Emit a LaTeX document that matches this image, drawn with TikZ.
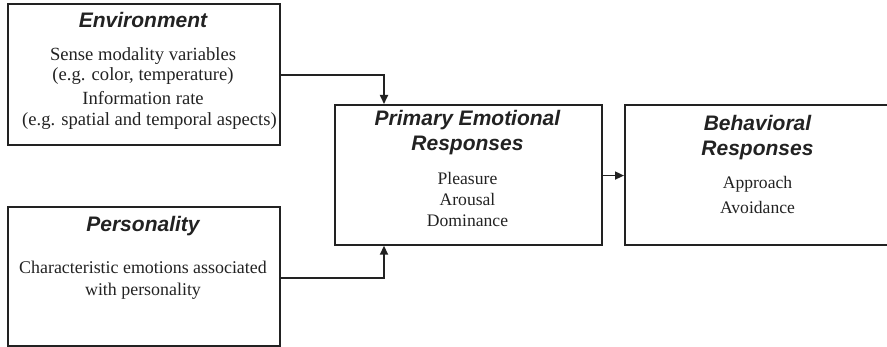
\documentclass[tikz,border=0pt]{standalone}
\usepackage{fontspec}
\setmainfont{Liberation Serif}
\newfontfamily\titlefont{Liberation Sans}
\usetikzlibrary{arrows.meta}
\definecolor{ink}{HTML}{222222}
\tikzset{
  boxnode/.style={draw=ink, line width=1.7pt, inner sep=0pt, anchor=north west},
  ttl/.style={anchor=base, inner sep=0pt, font=\titlefont\bfseries\itshape\fontsize{21}{24}\selectfont, text=ink},
  bod/.style={anchor=base, inner sep=0pt, font=\fontsize{17.6}{20}\selectfont, text=ink},
  bodbig/.style={bod, font=\fontsize{18.6}{21}\selectfont},
  conn/.style={draw=ink, line width=1.7pt, -{Triangle[length=9pt,width=8pt]}}
}
\begin{document}
\begin{tikzpicture}[x=1pt,y=-1pt]
\clip (0,0) rectangle (887,347);
\useasboundingbox (0,0) rectangle (887,347);
% boxes
\node[boxnode, minimum width=272pt, minimum height=141pt] (env) at (7,3) {};
\node[boxnode, minimum width=272pt, minimum height=139.5pt] (pers) at (7,206) {};
\node[boxnode, minimum width=267pt, minimum height=140pt] (prim) at (334,104) {};
\node[boxnode, minimum width=267pt, minimum height=140pt] (beh) at (624,104) {};
% environment
\node[ttl] (envt) at (143,28) {Environment};
\node[bodbig] (env1) at (143,60.7) {Sense modality variables};
\node[bodbig] (env2) at (143,80.7) {(e.g. color, temperature)};
\node[bodbig] (env3) at (143,105) {Information rate};
\node[bodbig] (env4) at (149.5,126) {(e.g. spatial and temporal aspects)};
% personality
\node[ttl] (perst) at (143,232) {Personality};
\node[bod, font=\fontsize{17.9}{20}\selectfont] (pers1) at (143,274) {Characteristic emotions associated};
\node[bod, font=\fontsize{17.9}{20}\selectfont] (pers2) at (143,296) {with personality};
% primary
\node[ttl] (primt1) at (467.5,125.7) {Primary Emotional};
\node[ttl] (primt2) at (467.5,151) {Responses};
\node[bod] (prim1) at (467.5,185) {Pleasure};
\node[bod] (prim2) at (467.5,206) {Arousal};
\node[bod] (prim3) at (467.5,227) {Dominance};
% behavioral
\node[ttl] (beht1) at (757.5,131) {Behavioral};
\node[ttl] (beht2) at (757.5,156) {Responses};
\node[bod] (beh1) at (757.5,189) {Approach};
\node[bod] (beh2) at (757.5,214) {Avoidance};
% connectors
\coordinate (pin) at ([xshift=50pt]prim.north west);
\coordinate (pout) at ([xshift=50pt]prim.south west);
\draw[conn] ([yshift=-0.5pt]env.east) -| (pin);
\draw[conn] ([yshift=-1.25pt]pers.east) -| (pout);
\draw[conn] ([yshift=-0.7pt]prim.east) -- ([yshift=-0.7pt]beh.west);
\end{tikzpicture}
\end{document}
